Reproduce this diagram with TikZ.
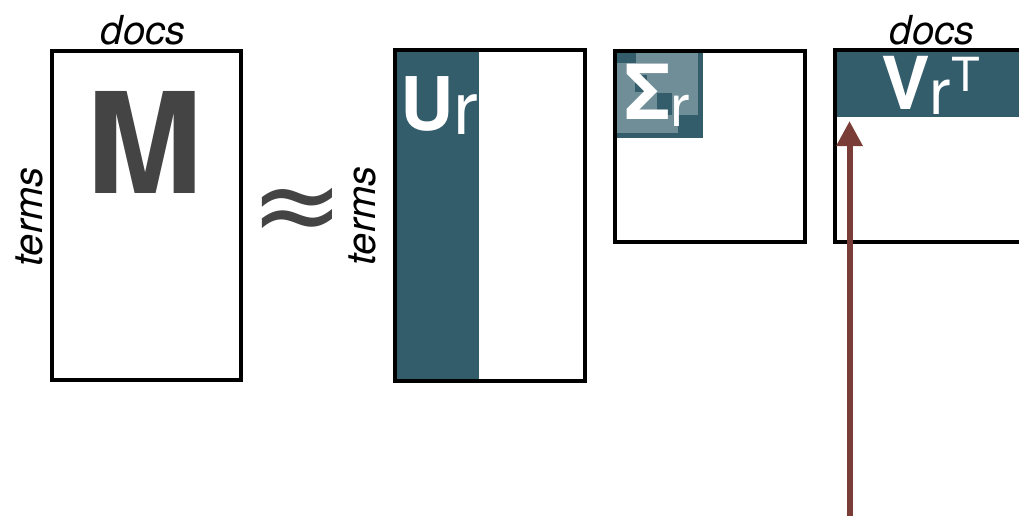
\documentclass[tikz,border=0pt]{standalone}
\usepackage{fontspec}
\setmainfont{TeX Gyre Heros}
\newfontfamily\symfont{DejaVu Sans}
\usetikzlibrary{arrows.meta}
\definecolor{svdteal}{HTML}{335D6A}
\definecolor{svdlight}{HTML}{6F8E97}
\definecolor{svdbrown}{HTML}{7A3C36}
\definecolor{svdgray}{HTML}{444444}
\begin{document}
\begin{tikzpicture}[x=1pt,y=-1pt,
  matbox/.style={draw=black,line width=4pt,inner sep=0pt,outer sep=0pt},
  band/.style={fill=svdteal,inner sep=0pt,outer sep=0pt},
  lightblk/.style={fill=svdlight,inner sep=0pt,outer sep=0pt},
  axislabel/.style={font=\fontsize{40}{40}\selectfont\itshape,inner sep=0pt,anchor=base},
  factor/.style={text=white,inner sep=0pt,anchor=base west},
  pointer/.style={draw=svdbrown,line width=6pt,-{Triangle[width=25pt,length=25pt]}}]
\useasboundingbox (0,0) rectangle (1019,516);
\clip (0,0) rectangle (1019,516);

% shaded parts of the factor matrices
\node[band,minimum width=82pt,minimum height=327pt] (ubar) at (438,215.5) {};
\node[band,minimum width=190pt,minimum height=65pt] (vbar) at (932,84.5) {};
% singular values: dark diagonal blocks on a light square
\node[band,minimum width=86pt,minimum height=85pt] (sblk) at (660,95.5) {};
\node[lightblk,minimum width=81pt,minimum height=80pt] (slight) at (657.5,93) {};
\node[band,minimum width=19pt,minimum height=10pt] (d1) at (626.5,58) {};
\node[band,minimum width=12pt,minimum height=17pt] (d2) at (641,83.5) {};
\node[band,minimum width=15pt,minimum height=22pt] (d3) at (664.5,104) {};
\node[band,minimum width=25pt,minimum height=23pt] (d4) at (690.5,126.5) {};

% matrix outlines
\node[matbox,minimum width=189pt,minimum height=329pt] (M) at (146.5,215.5) {};
\node[matbox,minimum width=190pt,minimum height=331pt] (U) at (489.5,215.5) {};
\node[matbox,minimum width=190pt,minimum height=190pt] (S) at (709.5,146.5) {};
\node[matbox,minimum width=190pt,minimum height=191.5pt] (V) at (930,145.75) {};

% axis labels
\node[axislabel] (mdocs) at (143,45) {docs};
\node[axislabel,rotate=90] (mterms) at (42,217) {terms};
\node[axislabel,rotate=90] (uterms) at (375,216) {terms};
\node[axislabel] (vdocs) at (932,45) {docs};

% matrix names
\node[inner sep=0pt,anchor=base,text=svdgray,font=\fontsize{140}{140}\selectfont\bfseries] (mname) at (145,193) {M};
\node[inner sep=0pt,text=svdgray,font=\fontsize{112}{112}\selectfont\symfont] (approx) at (297,216) {≈};
\node[factor] (uname) at (400,130) {\fontsize{74}{74}\selectfont\bfseries U\raisebox{-5pt}{\mdseries r}};
\node[factor] (sname) at (624,120) {\fontsize{76}{76}\selectfont\bfseries Σ\raisebox{-7pt}{\fontsize{58}{58}\selectfont\mdseries r}};
\node[factor] (vname) at (881,110) {\fontsize{73}{73}\selectfont\bfseries V\raisebox{-5pt}{\fontsize{64}{64}\selectfont\mdseries r}\raisebox{18pt}{\fontsize{47}{47}\selectfont\mdseries T}};

% pointer into the V band
\coordinate (abot) at (849.5,520);
\draw[pointer,shorten >=4pt] (abot) -- (abot |- vbar.south);
\end{tikzpicture}
\end{document}
